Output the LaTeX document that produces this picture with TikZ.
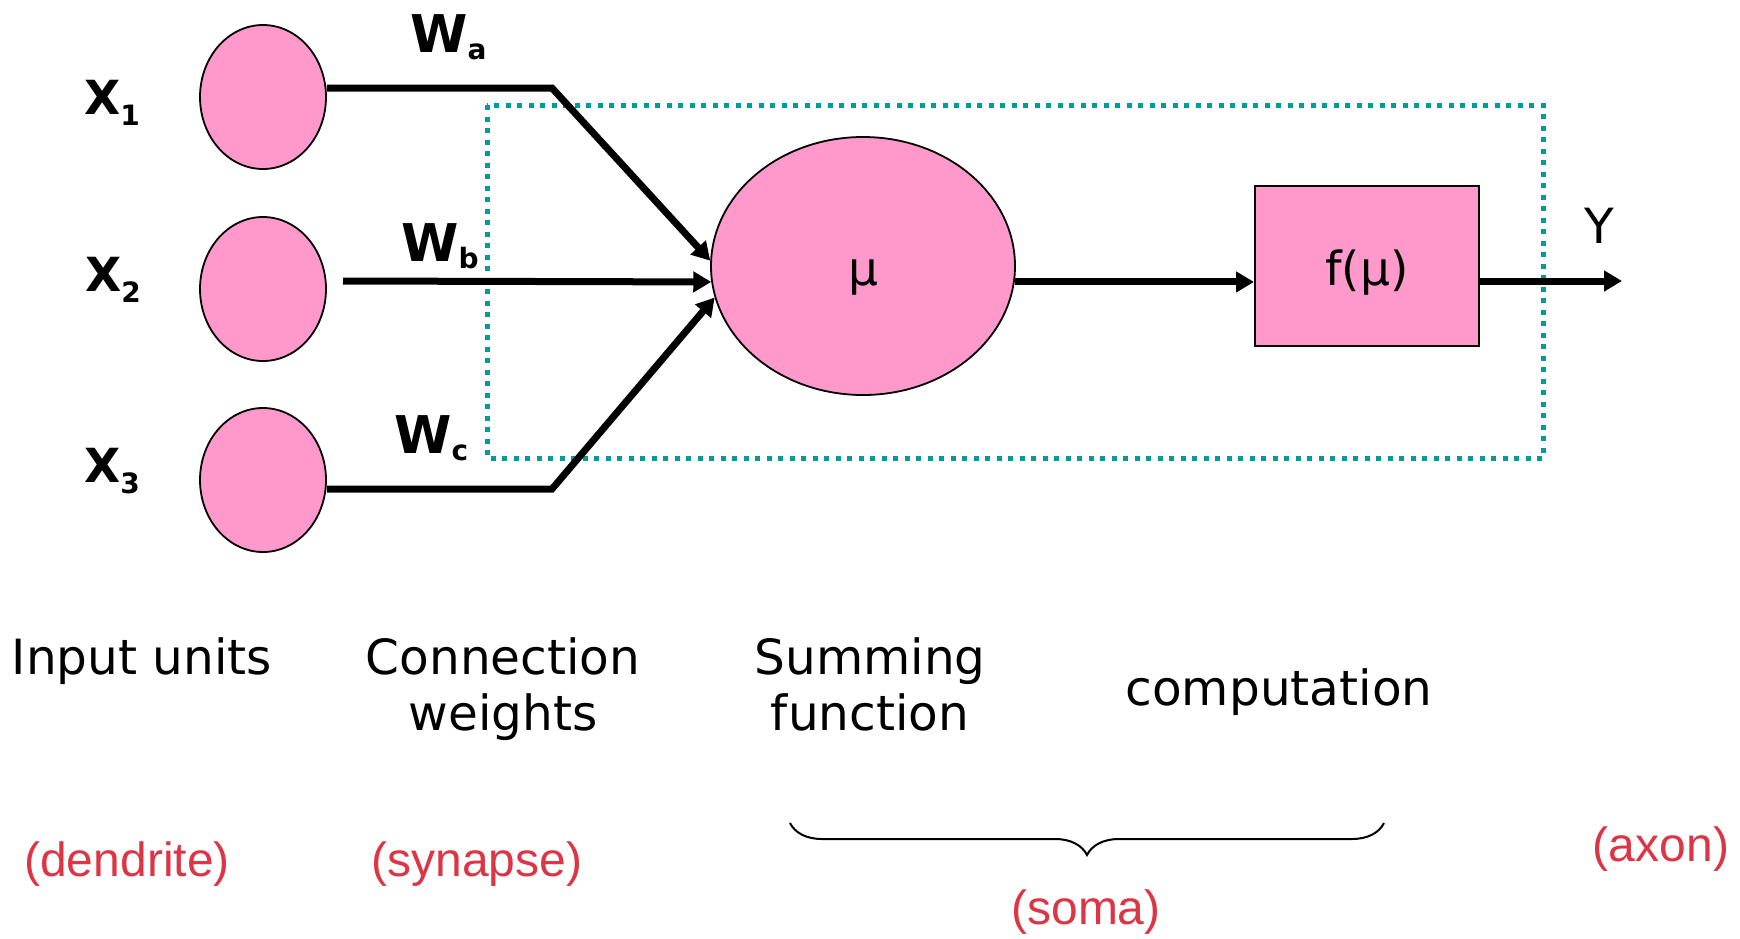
\documentclass[tikz,border=0pt]{standalone}
\usepackage{fontspec}
\setmainfont{DejaVu Sans}
\newfontfamily\biofont{Liberation Sans}
\usepackage{tikz}
\usetikzlibrary{positioning,arrows.meta,shapes.geometric,calc,decorations.pathreplacing}
\definecolor{neuPink}{HTML}{FF99CC}
\definecolor{neuTeal}{HTML}{009B9B}
\definecolor{neuRed}{HTML}{DC3545}
\newcommand{\lowidx}[2][11pt]{\raisebox{-#1}{\fontsize{28}{28}\selectfont #2}}
\tikzset{
  unitnode/.style={draw, ellipse, fill=neuPink, line width=1.8pt,
                   minimum width=126pt, minimum height=144pt, inner sep=0pt},
  somanode/.style={unitnode, minimum width=304pt, minimum height=258pt,
                   font=\fontsize{47}{56}\selectfont, text height=38pt, text depth=0pt},
  actnode/.style={draw, rectangle, fill=neuPink, line width=2pt,
                  minimum width=224pt, minimum height=160pt, inner sep=0pt,
                  font=\fontsize{47}{56}\selectfont, text height=38pt, text depth=0pt},
  varlabel/.style={font=\fontsize{47}{56}\selectfont\bfseries, inner sep=0pt, anchor=base west},
  wlabel/.style={varlabel, font=\fontsize{52}{60}\selectfont\bfseries},
  caption/.style={font=\fontsize{48.5}{56}\selectfont, align=center, inner sep=0pt, anchor=base},
  biolabel/.style={font=\biofont\fontsize{48}{58}\selectfont, text=neuRed, inner sep=0pt, anchor=base},
  flow/.style={line width=7pt, -{Triangle[length=18pt, width=20pt]}},
  somaframe/.style={draw=neuTeal, line width=5pt, dash pattern=on 5pt off 6.5pt},
  bracebar/.style={decorate, decoration={brace, mirror, amplitude=32pt}, line width=2pt},
}
\begin{document}
\begin{tikzpicture}[x=1pt, y=-1pt]
\useasboundingbox (0,0) rectangle (1740,938);
% Row y-positions
\def\yOne{97}   \def\yTwo{289}   \def\yThree{480}
\def\yFlow{281}

%% Soma frame
\draw[somaframe] (487,105) rectangle (1543,458);

%% Input units
\node[unitnode] (in1) at (263,\yOne)   {};
\node[unitnode] (in2) at (263,\yTwo)   {};
\node[unitnode] (in3) at (263,\yThree) {};

%% Soma and activation
\node[somanode] (soma) at (863,266)  {μ};
\node[actnode]  (act)  at (1367,266) {f(μ)};

%% Wire corners
\coordinate (bend1)  at (552,88);
\coordinate (bend3)  at (552,489);
\coordinate (start2) at (343,\yFlow);
\coordinate (yout)   at (1622,\yFlow);

%% Connections
\draw[flow] (in1.east |- bend1) -- (bend1) -- (soma.178);
\draw[flow] (start2) -- (soma.186);
\draw[flow] (in3.east |- bend3) -- (bend3) -- (soma.192);
\draw[flow] (soma.-6) -- (soma.-6 -| act.west);
\draw[flow] (act.east |- yout) -- (yout);

%% Variable labels
\node[varlabel] (x1) at (84,114) {X\lowidx{1}};
\node[varlabel] (x2) at (85,291) {X\lowidx{2}};
\node[varlabel] (x3) at (84,482) {X\lowidx{3}};
\node[wlabel] (wa) at (410,52)  {W\lowidx[7pt]{a}};
\node[wlabel] (wb) at (401,261) {W\lowidx[7pt]{b}};
\node[wlabel] (wc) at (394,453) {W\lowidx[7pt]{c}};
\node[caption] (ylab) at (1599,243) {Y};

%% Captions
\node[caption] (cInput) at (142,674)  {Input units};
\node[caption] (cConn)  at (503,730)  {Connection\\weights};
\node[caption] (cSum)   at (870,730)  {Summing\\function};
\node[caption] (cComp)  at (1279,705) {computation};

%% Biology
\draw[bracebar] (790,823) -- (1384,823);
\node[biolabel] (bDend) at (127,876)  {(dendrite)};
\node[biolabel] (bSyn)  at (477,876)  {(synapse)};
\node[biolabel] (bSoma) at (1086,924) {(soma)};
\node[biolabel] (bAxon) at (1661,861) {(axon)};
\end{tikzpicture}
\end{document}
